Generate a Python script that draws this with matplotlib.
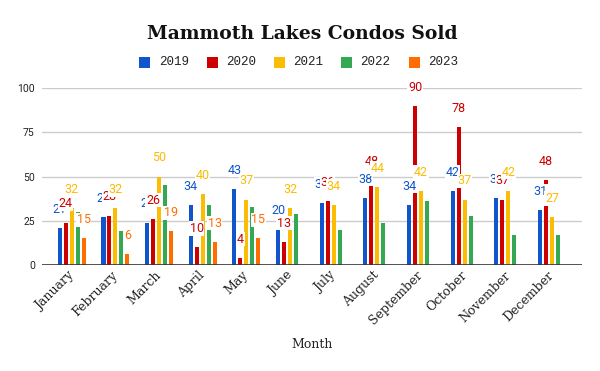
import numpy as np
import matplotlib
matplotlib.use("Agg")
import matplotlib.pyplot as plt
from matplotlib.patches import Rectangle

months = ["January", "February", "March", "April", "May", "June", "July",
          "August", "September", "October", "November", "December"]
years = ["2019", "2020", "2021", "2022", "2023"]
v2019 = [21, 27, 24, 34, 43, 20, 35, 38, 34, 42, 38, 31]
v2020 = [24, 28, 26, 10, 4, 13, 36, 48, 90, 78, 37, 48]
v2021 = [32, 32, 50, 40, 37, 32, 34, 44, 42, 37, 42, 27]
v2022 = [30, 19, 45, 34, 33, 29, 20, 24, 36, 28, 17, 17]
v2023 = [15, 6, 19, 13, 15, np.nan, np.nan, np.nan, np.nan, np.nan, np.nan, np.nan]
series = [v2019, v2020, v2021, v2022, v2023]
colors = ["#1155cc", "#cc0000", "#fbbc04", "#34a853", "#ff6d01"]
show_labels = [True, True, True, False, True]
yticks = [0, 25, 50, 75, 100]

W, H = 600, 371
fig = plt.figure(figsize=(6, 3.71), dpi=100)
ax = fig.add_axes([41.7 / W, (H - 265) / H, 540 / W, (265 - 88.3) / H])

x = np.arange(len(months))
step = 0.1363
bw = 0.092
for i, (vals, c) in enumerate(zip(series, colors)):
    off = (i - 2) * step
    vals = np.array(vals, dtype=float)
    ax.bar(x + off, vals, width=bw, color=c, zorder=3, linewidth=0)
for i, (vals, c) in enumerate(zip(series, colors)):
    if not show_labels[i]:
        continue
    off = (i - 2) * step
    for xi, v in zip(x, vals):
        if np.isnan(v):
            continue
        ax.annotate(f"{int(v)}", (xi + off, v), xytext=(0, 13.5),
                    textcoords="offset points", ha="center", va="center",
                    fontsize=9, color=c, family="Roboto", zorder=5,
                    bbox=dict(boxstyle="square,pad=0.05", fc="white", ec="none"))

ax.set_xlim(-0.688, 11.68)
ax.set_ylim(0, 100)
ax.set_yticks(yticks)
ax.set_yticklabels([str(t) for t in yticks], fontsize=7.5, family="Roboto", color="#222222")
for t in yticks[1:]:
    ax.axhline(t, color="#cccccc", lw=1, zorder=1)
ax.axhline(0, color="#333333", lw=1.2, zorder=4)
for s in ax.spines.values():
    s.set_visible(False)
ax.tick_params(length=0, pad=5)
ax.set_xticks(x)
ax.set_xticklabels(months, rotation=45, ha="right", rotation_mode="anchor",
                   fontsize=9, family="DejaVu Serif", color="#222222")
ax.tick_params(axis="x", pad=6)
for lbl in ax.get_xticklabels():
    lbl.set_va("center")

fig.text(311.7 / W, 1 - 345 / H, "Month", ha="center", va="center",
         fontsize=9, family="DejaVu Serif", color="#222222")
fig.text(302 / W, 1 - 34 / H, "Mammoth Lakes Condos Sold", ha="center", va="center",
         fontsize=13.5, family="DejaVu Serif", weight="bold", color="#111111")

lx = [139.3, 206.7, 274.0, 341.0, 408.7]
ly = 62
for px, c, lab in zip(lx, colors, years):
    fig.add_artist(Rectangle((px / W, 1 - (ly + 5.5) / H), 11 / W, 11 / H,
                             transform=fig.transFigure, color=c, lw=0))
    fig.text((px + 19.5) / W, 1 - ly / H, lab, ha="left", va="center",
             fontsize=9, family="Liberation Mono", color="#222222")

fig.savefig("out.png", dpi=100)
